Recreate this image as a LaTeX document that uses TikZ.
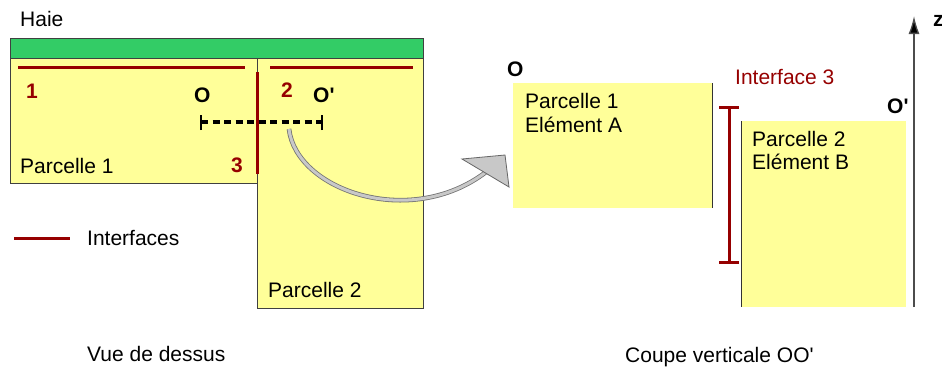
\documentclass[tikz,border=0pt]{standalone}
\usepackage{fontspec}
\setmainfont{Liberation Sans}
\usetikzlibrary{arrows.meta}
\definecolor{hedge}{RGB}{51,204,102}
\definecolor{plot}{RGB}{255,255,153}
\definecolor{iface}{RGB}{150,0,0}
\definecolor{arrowgray}{RGB}{200,200,200}
\newcommand{\qs}{\textquotesingle}
\begin{document}
\begin{tikzpicture}[x=1pt,y=-1pt,
  txt/.style={inner sep=0pt, anchor=base west, font=\fontsize{21}{25}\selectfont},
  lbl/.style={inner sep=0pt, anchor=base west, font=\fontsize{21}{25}\selectfont\bfseries},
  redlbl/.style={lbl, text=iface},
  ifline/.style={draw=iface, line width=3pt},
  box/.style={draw=black!75, line width=0.9pt},
  edge/.style={draw=black!80, line width=1pt},
  tick/.style={draw=black, line width=2pt}]
\useasboundingbox (0,0) rectangle (942,370);
% ---------- top view ----------
\path[box, fill=hedge] (10,38) rectangle (423,58);
\path[box, fill=plot] (10,58) rectangle (257,183);
\path[box, fill=plot] (257,58) rectangle (423,308);
\node[txt] (haie) at (20,26) {Haie};
% interfaces
\coordinate (i1a) at (18,67); \coordinate (i1b) at (245,67);
\coordinate (i2a) at (270,67); \coordinate (i2b) at (413,67);
\coordinate (i3a) at (257,72); \coordinate (i3b) at (257,174);
\draw[ifline] (i1a) -- (i1b);
\draw[ifline] (i2a) -- (i2b);
\draw[ifline] (i3a) -- (i3b);
\node[redlbl] (n1) at (26,98) {1};
\node[redlbl] (n2) at (281,97) {2};
\node[redlbl] (n3) at (231,172) {3};
\node[lbl] (o1) at (194,102) {O};
\node[lbl] (o2) at (313,102) {O\qs};
% section line
\coordinate (sa) at (201,122); \coordinate (sb) at (322,122);
\draw[draw=black, line width=3.5pt, dash pattern=on 7pt off 4.5pt] (sa) -- (sb);
\draw[tick] ([yshift=-8pt]sa) -- ([yshift=7pt]sa);
\draw[tick] ([yshift=-8pt]sb) -- ([yshift=7pt]sb);
\node[txt] (p1) at (20,173) {Parcelle 1};
\node[txt] (p2) at (268,297) {Parcelle 2};
% legend
\coordinate (la) at (14,238); \coordinate (lb) at (70,238);
\draw[ifline] (la) -- (lb);
\node[txt] (leg) at (87,245) {Interfaces};
\node[txt] (vue) at (87,361) {Vue de dessus};
% ---------- curved arrow ----------
\coordinate (as) at (289,129);
\coordinate (ae) at (486,172);
\draw[draw=black!55, line width=0.8pt, double=arrowgray, double distance=3pt]
  (as) .. controls (296,190) and (410,230) .. (ae);
\filldraw[fill=arrowgray, draw=black!60, line width=0.8pt]
  (462,159) -- (505,155) -- (509,187) -- cycle;
% ---------- vertical section ----------
\fill[plot] (513,83) rectangle (712,208);
\coordinate (e1a) at (712,83); \coordinate (e1b) at (712,208);
\draw[edge] (e1a) -- (e1b);
\fill[plot] (741,121) rectangle (906,307);
\coordinate (e2a) at (741,121); \coordinate (e2b) at (741,307);
\draw[edge] (e2a) -- (e2b);
\node[lbl] (ro1) at (507,76) {O};
\node[lbl] (ro2) at (887,113) {O\qs};
\node[txt] (ra1) at (525,108) {Parcelle 1};
\node[txt] (ra2) at (525,132) {Elément A};
\node[txt] (rb1) at (752,146) {Parcelle 2};
\node[txt] (rb2) at (752,169) {Elément B};
\node[txt, text=iface] (if3) at (735,84) {Interface 3};
\coordinate (ia) at (729,106); \coordinate (ib) at (729,264);
\draw[ifline, {Bar[width=20pt,line width=3pt]}-{Bar[width=20pt,line width=3pt]}] (ia) -- (ib);
% z axis
\coordinate (za) at (914,307); \coordinate (zb) at (914,16);
\draw[draw=black!70, line width=1.3pt, -{Latex[length=18pt,width=11pt,fill=black]}] (za) -- (zb);
\node[lbl] (z) at (933,26) {z};
\node[txt] (coupe) at (625,362) {Coupe verticale OO\qs};
\end{tikzpicture}
\end{document}
